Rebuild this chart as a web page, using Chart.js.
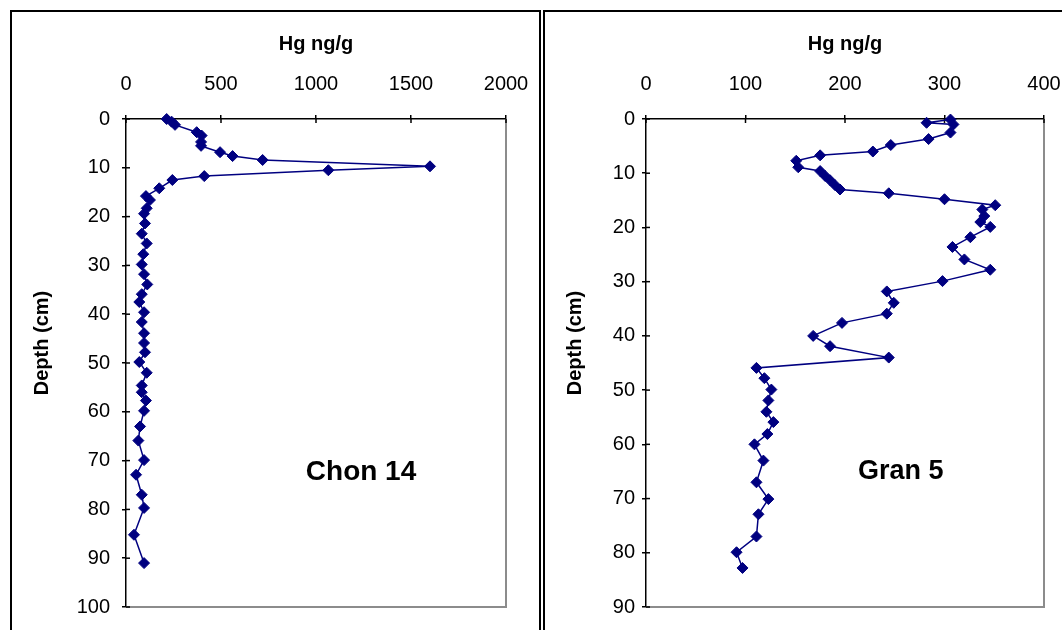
<!DOCTYPE html>
<html><head><meta charset="utf-8">
<script src="https://cdn.jsdelivr.net/npm/chart.js@4/dist/chart.umd.min.js"></script>
<style>
html,body{margin:0;padding:0;background:#fff;width:1062px;height:630px;overflow:hidden;position:relative;}
.panel{position:absolute;top:10px;border:2px solid #000;border-bottom:none;box-sizing:border-box;}
#p1{left:10px;width:531px;height:640px;}
#p2{left:543px;width:540px;height:640px;}
canvas{position:absolute;}
#c1{left:12px;top:12px;}
#c2{left:545px;top:12px;}
</style>
</head><body>
<div class="panel" id="p1"></div>
<div class="panel" id="p2"></div>
<canvas id="c1" width="527" height="618"></canvas>
<canvas id="c2" width="517" height="618"></canvas>
<script>
// ---- data ----
const chonDepth = [0, 0.55, 1.2, 2.7, 3.4, 4.7, 5.5, 6.8, 7.6, 8.4, 9.7, 10.5, 11.7, 12.5, 14.2, 15.8, 16.6, 18.3, 19.4, 21.4, 23.5, 25.5, 27.7, 29.8, 31.8, 33.9, 35.9, 37.5, 39.6, 41.6, 43.9, 45.9, 47.8, 49.8, 52.0, 54.6, 56.0, 57.7, 59.8, 63.0, 65.9, 69.9, 72.9, 77.0, 79.7, 85.2, 91.0];
const chonHg    = [214, 240, 258, 372, 398, 395, 395, 495, 561, 719, 1600, 1065, 412, 244, 175, 105, 126, 109, 95, 100, 83, 109, 91, 83, 95, 112, 83, 70, 95, 83, 95, 95, 100, 70, 109, 83, 83, 105, 95, 74, 65, 95, 53, 83, 95, 42, 95];
const granDepth = [0.1, 0.7, 1.0, 2.5, 3.7, 4.8, 6.0, 6.7, 7.7, 8.9, 9.6, 10.5, 11.3, 12.2, 13.0, 13.7, 14.8, 15.9, 16.7, 17.9, 19.0, 19.9, 21.8, 23.6, 25.9, 27.8, 29.9, 31.8, 33.9, 35.9, 37.6, 40.0, 41.9, 44.0, 45.9, 47.8, 49.9, 51.9, 54.0, 55.9, 58.1, 60.0, 63.0, 67.0, 70.1, 72.9, 77.0, 79.9, 82.8];
const granHg    = [306, 282, 309, 306, 284, 246, 228, 175, 151, 153, 175, 180, 185, 190, 195, 244, 300, 351, 338, 340, 336, 346, 326, 308, 320, 346, 298, 242, 249, 242, 197, 168, 185, 244, 111, 119, 126, 123, 121, 128, 122, 109, 118, 111, 123, 113, 111, 91, 97];
const xTitle = 'Hg ng/g';
const yTitle = 'Depth (cm)';
const labels = ['Chon 14', 'Gran 5'];

const FONT = '"Liberation Sans", Arial, sans-serif';
const NAVY = '#000080';

const deco = {
  id: 'deco',
  beforeDatasetsDraw(chart, args, o) {
    const {ctx, chartArea: a, scales: {x, y}} = chart;
    ctx.save();
    ctx.strokeStyle = '#8c8c8c'; ctx.lineWidth = 2;
    ctx.beginPath(); ctx.moveTo(a.right, a.top); ctx.lineTo(a.right, a.bottom); ctx.lineTo(a.left, a.bottom); ctx.stroke();
    ctx.strokeStyle = '#000'; ctx.lineWidth = 1.5;
    x.ticks.forEach(t => { const p = x.getPixelForValue(t.value); ctx.beginPath(); ctx.moveTo(p, a.top); ctx.lineTo(p, a.top + 4); ctx.stroke(); });
    y.ticks.forEach(t => { const p = y.getPixelForValue(t.value); ctx.beginPath(); ctx.moveTo(a.left, p); ctx.lineTo(a.left + 4, p); ctx.stroke(); });
    ctx.fillStyle = '#000'; ctx.textAlign = 'center'; ctx.textBaseline = 'middle';
    ctx.font = 'bold ' + o.size + 'px ' + FONT;
    ctx.fillText(o.label, x.getPixelForValue(o.lx), y.getPixelForValue(o.ly));
    // y axis title
    ctx.font = 'bold 20px ' + FONT;
    ctx.translate(o.tx, (a.top + a.bottom) / 2 - 20);
    ctx.rotate(-Math.PI / 2);
    ctx.fillText(yTitle, 0, 0);
    ctx.restore();
  }
};

function make(id, xs, ys, xmax, xstep, ymax, yw, padR, ypad, label, size, lx, ly) {
  const pts = xs.map((v, i) => ({x: v, y: ys[i]}));
  return new Chart(document.getElementById(id), {
    type: 'scatter',
    data: { datasets: [{ data: pts, showLine: true, borderColor: NAVY, borderWidth: 1.5,
      pointStyle: 'rectRot', pointRadius: 5.5, pointBackgroundColor: NAVY, pointBorderColor: NAVY, pointBorderWidth: 1, clip: false }] },
    options: {
      responsive: false, animation: false, devicePixelRatio: 1,
      layout: { padding: { left: 0, top: 0, right: padR, bottom: 23 } },
      plugins: { legend: { display: false }, tooltip: { enabled: false }, deco: { label, size, lx, ly, tx: 30 } },
      scales: {
        x: { type: 'linear', position: 'top', min: 0, max: xmax,
          ticks: { stepSize: xstep, color: '#000', font: { family: FONT, size: 20 }, padding: 19, callback: v => String(v) },
          grid: { drawOnChartArea: false, tickLength: 4, color: '#000', lineWidth: 1.5 },
          border: { color: '#000', width: 1.5 },
          title: { display: true, text: xTitle, color: '#000', font: { family: FONT, size: 20, weight: 'bold' }, padding: { top: 20, bottom: 0 } },
          afterFit(s) { s.height = 107; s.paddingLeft = 0; s.paddingRight = 0; } },
        y: { type: 'linear', reverse: true, min: 0, max: ymax,
          ticks: { stepSize: 10, color: '#000', font: { family: FONT, size: 20 }, padding: ypad, callback: v => String(v) },
          grid: { drawOnChartArea: false, tickLength: 4, color: '#000', lineWidth: 1.5 },
          border: { color: '#000', width: 1.5 },
          title: { display: false },
          afterFit(s) { s.width = yw; s.paddingTop = 0; s.paddingBottom = 0; } }
      }
    },
    plugins: [deco]
  });
}

make('c1', chonHg, chonDepth, 2000, 500, 100, 114, 33, 12, labels[0], 28, 1237, 72.3);
make('c2', granHg, granDepth, 400, 100, 90, 101, 18, 7, labels[1], 27, 256, 65);
</script>
</body></html>
